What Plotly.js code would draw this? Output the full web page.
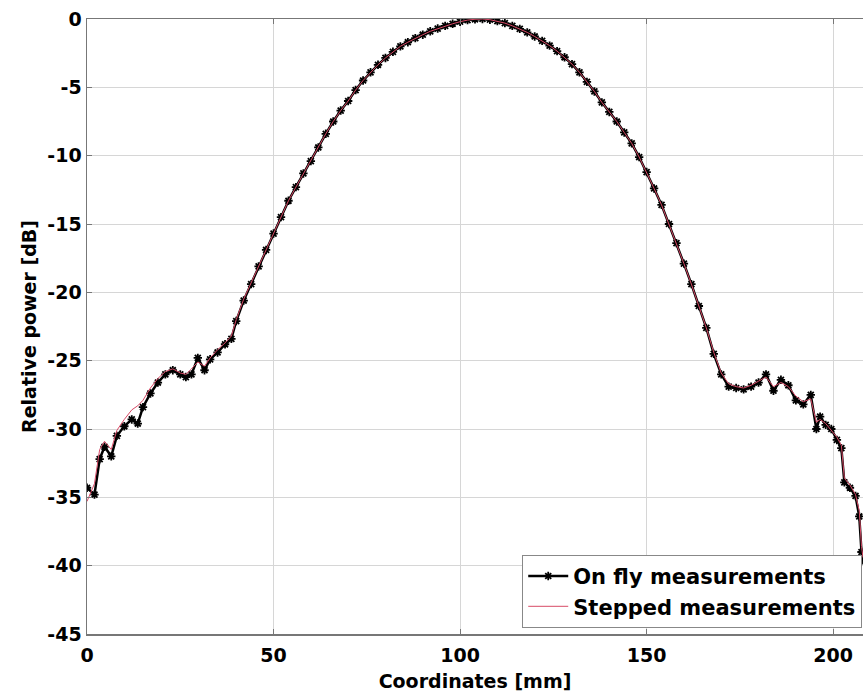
<!DOCTYPE html>
<html>
<head>
<meta charset="utf-8">
<script src="https://cdn.plot.ly/plotly-3.0.1.min.js"></script>
<style>html,body{margin:0;padding:0;background:#fff;}#chart{width:863px;height:696px;}</style>
</head>
<body>
<div id="chart"></div>
<script>
// Coordinates [mm]
const coords = [0,2,3.4,4.7,6.5,8,10,12,13.6,15,17,19,21,23,25,26.5,28,29.7,31.5,33,35,37,38.7,
  40,42,44,46,48,50,52,54,56,58,60,62,64,66,68,70,72,74,76,78,80,82,84,86,88,90,92,94,96,98,100,
  102,104,106,108,110,112,114,116,118,120,122,124,126,128,130,132,134,136,138,140,142,144,146,148,
  150,152,154,156,158,160,162,164,166,168,170,172,174,176,178,180,182,184,186,188,190,192,194,
  195.5,196.5,198,199.5,201,202.2,203,204.5,206,207,207.6,208];

// On fly measurements [dB]
const onFly = [-34.3,-34.8,-32.2,-31.3,-32.0,-30.5,-29.8,-29.3,-29.6,-28.4,-27.4,-26.6,-26.0,-25.7,-26.0,-26.2,-26.0,-24.8,-25.7,-24.9,-24.4,-23.8,-23.4,
  -22.1,-20.6,-19.4,-18.1,-16.9,-15.7,-14.5,-13.3,-12.3,-11.3,-10.4,-9.4,-8.4,-7.5,-6.7,-6.0,-5.2,-4.5,-3.9,-3.35,-2.85,-2.4,-2.0,-1.7,-1.4,-1.15,-0.9,-0.7,-0.5,-0.35,-0.2,
  -0.08,-0.02,0,-0.05,-0.15,-0.3,-0.5,-0.72,-0.98,-1.28,-1.6,-1.95,-2.35,-2.8,-3.3,-3.9,-4.6,-5.3,-6.1,-6.8,-7.5,-8.3,-9.1,-10.1,
  -11.2,-12.4,-13.6,-15.0,-16.4,-17.9,-19.4,-21.0,-22.6,-24.5,-26.0,-26.9,-27.0,-27.1,-26.9,-26.6,-26.0,-27.2,-26.4,-26.8,-27.9,-28.2,-27.5,
  -30.0,-29.1,-29.7,-30.0,-30.8,-31.4,-33.9,-34.3,-34.9,-36.4,-39.0,-39.6];

// Stepped measurements [dB]
const stepped = [-35.3,-34.0,-31.5,-30.9,-31.5,-30.1,-29.3,-28.6,-28.3,-27.9,-27.0,-26.3,-25.8,-25.6,-25.9,-26.0,-25.6,-25.1,-25.4,-24.8,-24.2,-23.7,-23.2,
  -22.0,-20.5,-19.3,-18.0,-16.8,-15.6,-14.5,-13.3,-12.3,-11.3,-10.3,-9.4,-8.4,-7.5,-6.7,-6.0,-5.2,-4.5,-3.9,-3.35,-2.85,-2.4,-2.0,-1.7,-1.4,-1.15,-0.9,-0.7,-0.5,-0.35,-0.2,
  -0.08,-0.02,0,-0.05,-0.15,-0.3,-0.5,-0.72,-0.98,-1.28,-1.6,-1.95,-2.35,-2.8,-3.3,-3.9,-4.6,-5.3,-6.1,-6.8,-7.5,-8.3,-9.1,-10.1,
  -11.2,-12.4,-13.6,-15.0,-16.4,-17.9,-19.4,-21.0,-22.6,-24.4,-25.9,-26.7,-26.9,-27.0,-26.8,-26.5,-26.2,-26.9,-26.6,-26.9,-27.6,-28.0,-27.8,
  -29.5,-29.3,-29.6,-30.1,-30.6,-31.2,-33.6,-34.1,-34.8,-36.0,-38.6,-39.4];

const xTicks = [0,50,100,150,200];
const xTickText = ['0','50','100','150','200'];
const yTicks = [0,-5,-10,-15,-20,-25,-30,-35,-40,-45];
const yTickText = ['0','-5','-10','-15','-20','-25','-30','-35','-40','-45'];

const fontFam = '"DejaVu Sans", Verdana, sans-serif';

const traces = [
  {
    x: coords, y: onFly, name: 'On fly measurements', type: 'scatter', mode: 'lines+markers',
    line: {color: '#000000', width: 2.5},
    marker: {symbol: 'asterisk-open', size: 7, color: '#000000', line: {color: '#000000', width: 1.8}}
  },
  {
    x: coords, y: stepped, name: 'Stepped measurements', type: 'scatter', mode: 'lines',
    line: {color: '#d84a66', width: 1}
  },
  { // carrier for the inside tick marks axis (no visible marks)
    x: [], y: [], yaxis: 'y2', type: 'scatter', mode: 'lines', showlegend: false, hoverinfo: 'skip'
  }
];

const layout = {
  width: 863, height: 696,
  margin: {l: 87, r: 0, t: 19, b: 62},
  paper_bgcolor: '#ffffff', plot_bgcolor: '#ffffff',
  font: {family: fontFam, size: 19, color: '#000000', weight: 'bold'},
  showlegend: true,
  legend: {
    x: 0.999, xanchor: 'right', y: 0.01, yanchor: 'bottom',
    bgcolor: '#ffffff', bordercolor: '#888888', borderwidth: 1,
    font: {family: fontFam, size: 21, color: '#000000', weight: 'bold'},
    tracegroupgap: 0, itemwidth: 40
  },
  xaxis: {
    range: [0, 208], tickvals: xTicks, ticktext: xTickText,
    showgrid: true, gridcolor: '#d6d6d6', gridwidth: 1,
    zeroline: false, showline: true, linecolor: '#777777', linewidth: 1.5, mirror: 'ticks',
    ticks: 'inside', ticklen: 5, tickcolor: '#777777', ticklabelstandoff: 4,
    tickfont: {family: fontFam, size: 19, color: '#000000', weight: 'bold'},
    title: {text: 'Coordinates [mm]', font: {family: fontFam, size: 19, color: '#000000', weight: 'bold'}, standoff: 9}
  },
  yaxis: {
    range: [-45, 0], tickvals: yTicks, ticktext: yTickText,
    showgrid: true, gridcolor: '#d6d6d6', gridwidth: 1,
    zeroline: false, showline: true, linecolor: '#777777', linewidth: 1.5, mirror: false,
    ticks: '', ticklabelstandoff: 0,
    tickfont: {family: fontFam, size: 19, color: '#000000', weight: 'bold'},
    title: {text: 'Relative power [dB]', font: {family: fontFam, size: 19, color: '#000000', weight: 'bold'}, standoff: 5}
  },
  yaxis2: {
    overlaying: 'y', side: 'left', anchor: 'x',
    range: [-45, 0], tickvals: yTicks, showticklabels: false,
    showgrid: false, zeroline: false, showline: false,
    ticks: 'inside', ticklen: 5, tickcolor: '#777777'
  }
};

Plotly.newPlot('chart', traces, layout, {displayModeBar: false, staticPlot: true});
</script>
</body>
</html>
